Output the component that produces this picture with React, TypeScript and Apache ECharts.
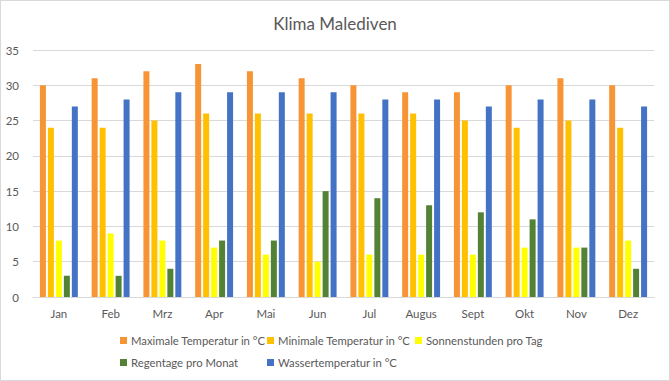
import React, { useEffect, useRef } from "react";
import * as echarts from "echarts";

const months = ["Jan", "Feb", "Mrz", "Apr", "Mai", "Jun", "Jul", "Augus", "Sept", "Okt", "Nov", "Dez"];
const seriesNames = [
  "Maximale Temperatur in °C",
  "Minimale Temperatur in °C",
  "Sonnenstunden pro Tag",
  "Regentage pro Monat",
  "Wassertemperatur in °C",
];
const maxTemp = [30, 31, 32, 33, 32, 31, 30, 29, 29, 30, 31, 30];
const minTemp = [24, 24, 25, 26, 26, 26, 26, 26, 25, 24, 25, 24];
const sunHours = [8, 9, 8, 7, 6, 5, 6, 6, 6, 7, 7, 8];
const rainDays = [3, 3, 4, 8, 8, 15, 14, 13, 12, 11, 7, 4];
const waterTemp = [27, 28, 29, 29, 29, 29, 28, 28, 27, 28, 28, 27];
const colors = ["#F79536", "#FFC000", "#FFFF00", "#548235", "#4472C4"];

const FONT = "Lato, 'Open Sans', sans-serif";

export default function App() {
  const ref = useRef<HTMLDivElement>(null);
  useEffect(() => {
    document.body.style.margin = "0";
    const chart = echarts.init(ref.current!, null, { renderer: "svg" });
    const data = [maxTemp, minTemp, sunHours, rainDays, waterTemp];
    const legendPos = [
      [119, 334],
      [266, 334],
      [414, 334],
      [119, 356],
      [266, 356],
    ];
    chart.setOption({
      animation: false,
      backgroundColor: "#fff",
      color: colors,
      title: {
        text: "Klima Malediven",
        left: "center",
        top: 9,
        textStyle: { fontFamily: FONT, fontSize: 17, fontWeight: "normal", color: "#595959" },
      },
      legend: seriesNames.map((n, i) => ({
        data: [n],
        left: legendPos[i][0],
        top: legendPos[i][1],
        itemWidth: 7,
        itemHeight: 7,
        itemGap: 4,
        padding: 0,
        icon: "rect",
        textStyle: { fontFamily: FONT, fontSize: 11.3, color: "#595959", padding: [0, 0, 0, -1] },
      })),
      grid: { left: 32, right: 15, top: 49, bottom: 83 },
      xAxis: {
        type: "category",
        data: months,
        axisLine: { lineStyle: { color: "#D9D9D9" } },
        axisTick: { show: false },
        axisLabel: { fontFamily: FONT, fontSize: 11.5, color: "#595959", margin: 10 },
      },
      yAxis: {
        type: "value",
        min: 0,
        max: 35,
        interval: 5,
        axisLine: { show: false },
        axisTick: { show: false },
        splitLine: { lineStyle: { color: "#D9D9D9" } },
        axisLabel: { fontFamily: FONT, fontSize: 11.5, color: "#595959", margin: 14 },
      },
      series: seriesNames.map((n, i) => ({
        name: n,
        type: "bar",
        data: data[i],
        barWidth: 6,
        barGap: "33%",
        itemStyle: { color: colors[i] },
      })),
    });
    return () => chart.dispose();
  }, []);
  return (
    <div
      ref={ref}
      style={{ width: 670, height: 381, border: "1px solid #D9D9D9", boxSizing: "border-box" }}
    />
  );
}
